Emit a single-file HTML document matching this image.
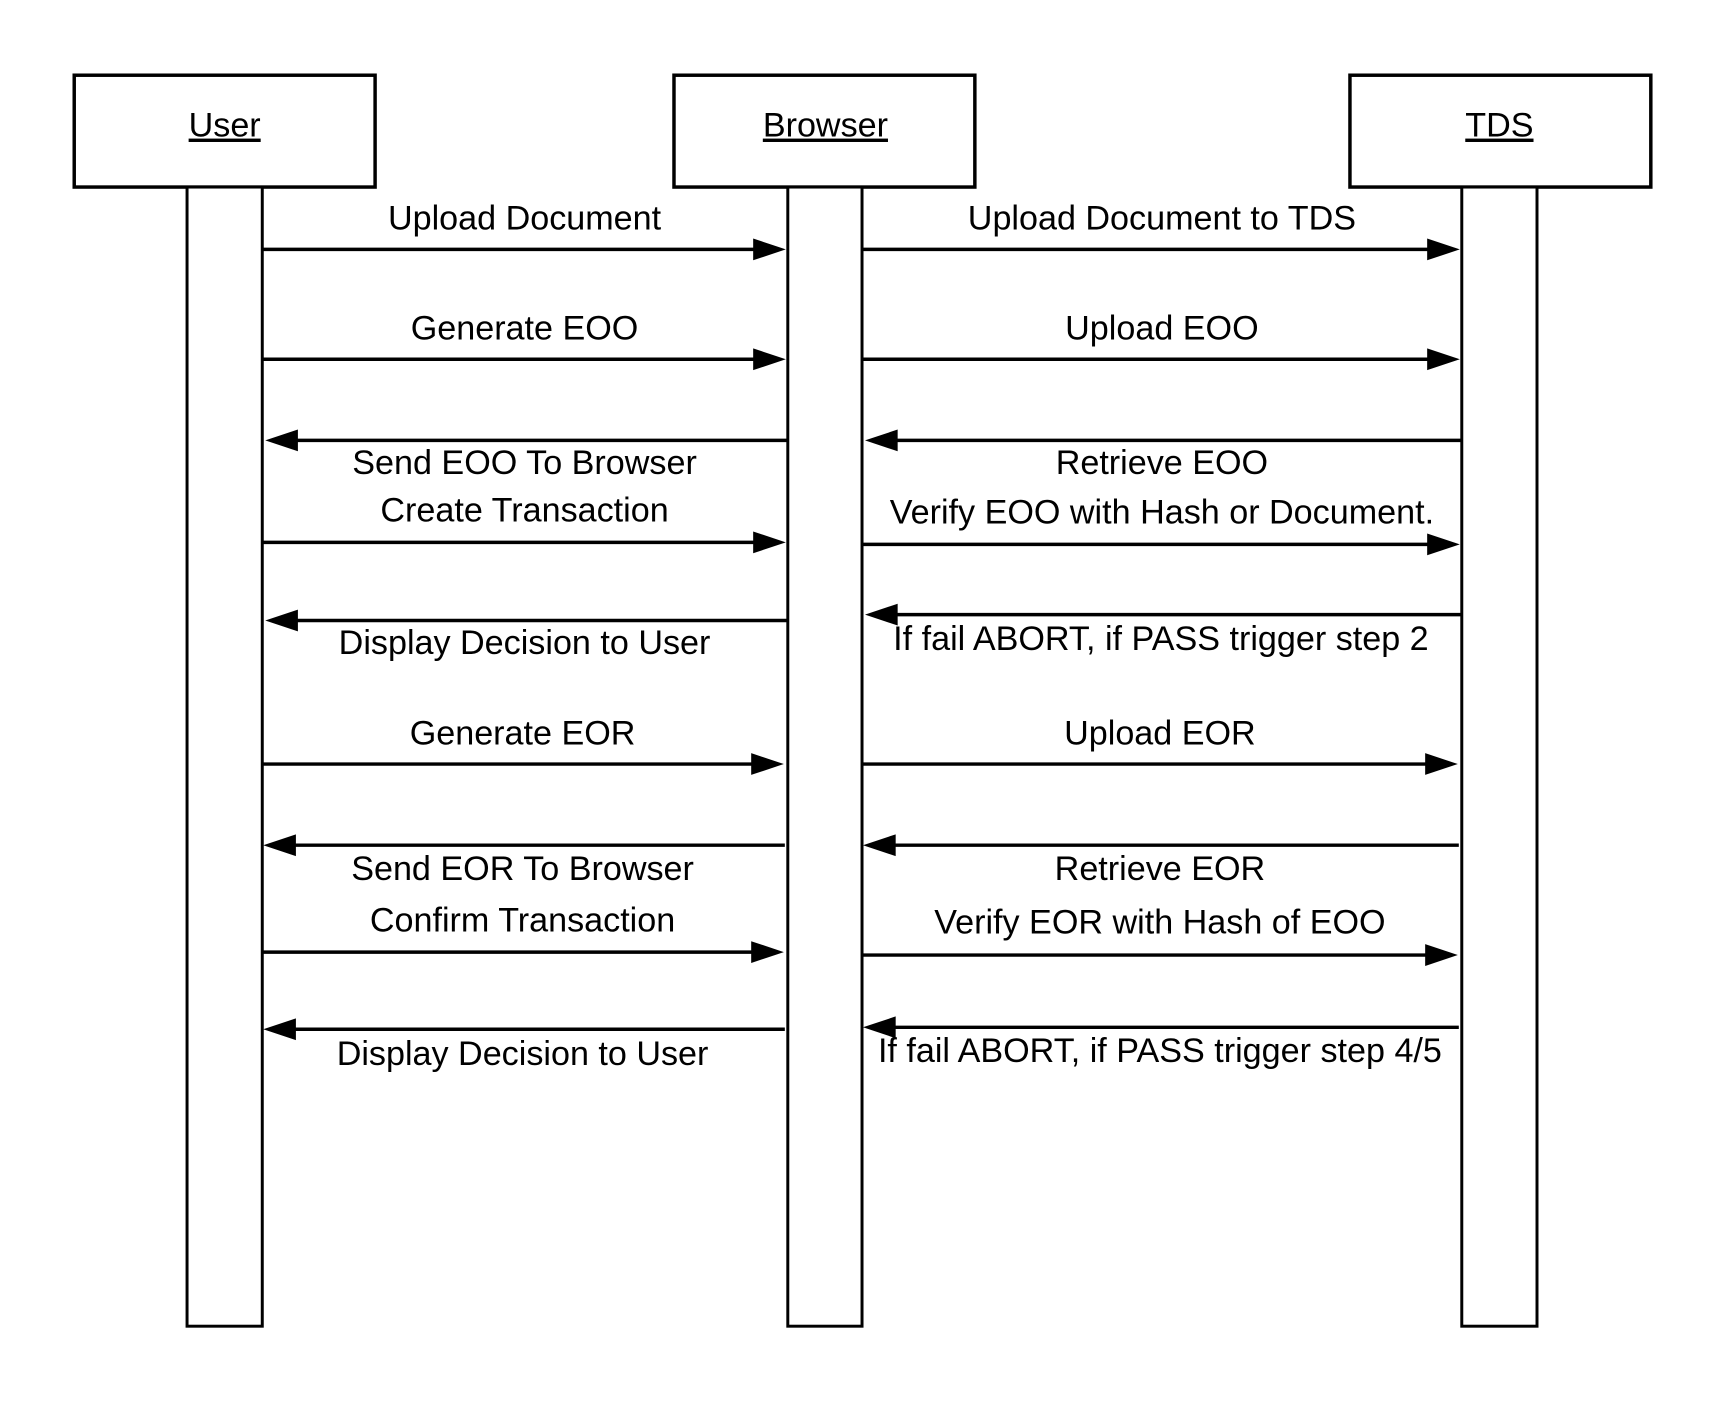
<!DOCTYPE html>
<html><head><meta charset="utf-8"><style>
html,body{margin:0;padding:0;background:#fff;}
svg{display:block;}
text{font-family:"Liberation Sans",Arial,sans-serif;font-size:34.5px;fill:#000;}
</style></head><body>
<svg width="1725" height="1403" viewBox="0 0 1725 1403" xmlns="http://www.w3.org/2000/svg">
<rect width="1725" height="1403" fill="#fff"/>
<g transform="scale(0.9897)">
<g fill="#fff" stroke="#000">
<rect x="75" y="76" width="304" height="113" stroke-width="3.5"/>
<rect x="681" y="76" width="304" height="113" stroke-width="3.5"/>
<rect x="1364" y="76" width="304" height="113" stroke-width="3.5"/>
<rect x="189" y="189" width="76" height="1151" stroke-width="3"/>
<rect x="796" y="189" width="75" height="1151" stroke-width="3"/>
<rect x="1477" y="189" width="76" height="1151" stroke-width="3"/>
</g>
<g text-anchor="middle">
<text x="227" y="138" text-decoration="underline">User</text>
<text x="834" y="138" text-decoration="underline">Browser</text>
<text x="1515" y="138" text-decoration="underline">TDS</text>
</g>
<g stroke="#000" stroke-width="3.5">
<line x1="265" y1="252" x2="770" y2="252"/>
<line x1="265" y1="363" x2="770" y2="363"/>
<line x1="290" y1="445" x2="796" y2="445"/>
<line x1="265" y1="548" x2="770" y2="548"/>
<line x1="290" y1="627" x2="796" y2="627"/>
<line x1="265" y1="772" x2="768" y2="772"/>
<line x1="290" y1="854" x2="793" y2="854"/>
<line x1="265" y1="962" x2="768" y2="962"/>
<line x1="290" y1="1040" x2="793" y2="1040"/>
<line x1="871" y1="252" x2="1450" y2="252"/>
<line x1="871" y1="363" x2="1450" y2="363"/>
<line x1="900" y1="445" x2="1477" y2="445"/>
<line x1="871" y1="550" x2="1450" y2="550"/>
<line x1="900" y1="621" x2="1477" y2="621"/>
<line x1="871" y1="772" x2="1448" y2="772"/>
<line x1="900" y1="854" x2="1474" y2="854"/>
<line x1="871" y1="965" x2="1448" y2="965"/>
<line x1="900" y1="1038" x2="1474" y2="1038"/>
</g>
<g fill="#000">
<polygon points="794,252 761,241 761,263"/>
<polygon points="794,363 761,352 761,374"/>
<polygon points="268,445 301,434 301,456"/>
<polygon points="794,548 761,537 761,559"/>
<polygon points="268,627 301,616 301,638"/>
<polygon points="792,772 759,761 759,783"/>
<polygon points="266,854 299,843 299,865"/>
<polygon points="792,962 759,951 759,973"/>
<polygon points="266,1040 299,1029 299,1051"/>
<polygon points="1475,252 1442,241 1442,263"/>
<polygon points="1475,363 1442,352 1442,374"/>
<polygon points="874,445 907,434 907,456"/>
<polygon points="1475,550 1442,539 1442,561"/>
<polygon points="874,621 907,610 907,632"/>
<polygon points="1473,772 1440,761 1440,783"/>
<polygon points="872,854 905,843 905,865"/>
<polygon points="1473,965 1440,954 1440,976"/>
<polygon points="872,1038 905,1027 905,1049"/>
</g>
<g text-anchor="middle">
<text x="530" y="232">Upload Document</text>
<text x="530" y="343">Generate EOO</text>
<text x="530" y="479">Send EOO To Browser</text>
<text x="530" y="527">Create Transaction</text>
<text x="530" y="661">Display Decision to User</text>
<text x="528" y="752">Generate EOR</text>
<text x="528" y="889">Send EOR To Browser</text>
<text x="528" y="941">Confirm Transaction</text>
<text x="528" y="1076">Display Decision to User</text>
<text x="1174" y="232">Upload Document to TDS</text>
<text x="1174" y="343">Upload EOO</text>
<text x="1174" y="479">Retrieve EOO</text>
<text x="1174" y="529">Verify EOO with Hash or Document.</text>
<text x="1173" y="657">If fail ABORT, if PASS trigger step 2</text>
<text x="1172" y="752">Upload EOR</text>
<text x="1172" y="889">Retrieve EOR</text>
<text x="1172" y="943">Verify EOR with Hash of EOO</text>
<text x="1172" y="1073">If fail ABORT, if PASS trigger step 4/5</text>
</g>
</g>
</svg>
</body></html>
